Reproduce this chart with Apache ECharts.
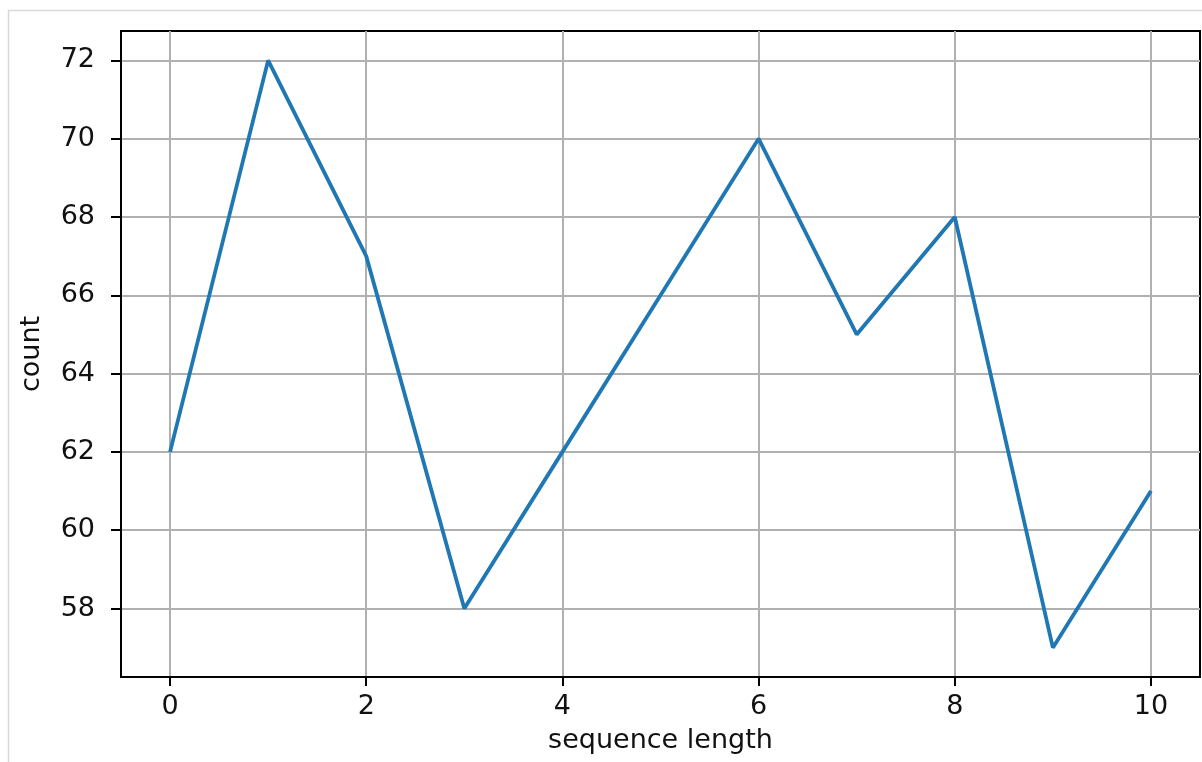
<!DOCTYPE html>
<html>
<head>
<meta charset="utf-8">
<script src="https://cdn.jsdelivr.net/npm/echarts@6/dist/echarts.min.js"></script>
<style>
html,body{margin:0;padding:0;background:#fff;}
#c{width:1202px;height:762px;}
</style>
</head>
<body>
<div id="c"></div>
<script>
const seqLength = [0, 1, 2, 3, 4, 5, 6, 7, 8, 9, 10];
const counts = [62, 72, 67, 58, 62, 66, 70, 65, 68, 57, 61];
const xTicks = [0, 2, 4, 6, 8, 10];
const yTicks = [58, 60, 62, 64, 66, 68, 70, 72];
const xName = 'sequence length';
const yName = 'count';

const font = 'DejaVu Sans';
const txt = '#111';
const fs = 27;
const chart = echarts.init(document.getElementById('c'), null, {renderer: 'canvas'});
chart.setOption({
  animation: false,
  backgroundColor: '#fff',
  graphic: [{
    type: 'rect', z: -10, silent: true,
    shape: {x: 8.5, y: 10.5, width: 1400, height: 1000},
    style: {fill: 'none', stroke: '#d9d9d9', lineWidth: 1.5}
  }],
  grid: {left: 121, top: 31, right: 2, bottom: 85, show: true, borderColor: '#000', borderWidth: 2, backgroundColor: 'transparent'},
  xAxis: {
    type: 'value', min: -0.5, max: 10.5, splitNumber: 5,
    name: xName, nameLocation: 'middle', nameGap: 50,
    nameTextStyle: {fontFamily: font, fontSize: fs, color: txt},
    axisLine: {show: true, onZero: false, lineStyle: {color: '#000', width: 2}},
    axisTick: {show: true, length: 9, customValues: xTicks, lineStyle: {color: '#000', width: 2}},
    axisLabel: {customValues: xTicks, margin: 16, fontFamily: font, fontSize: fs, color: txt},
    splitLine: {show: true, lineStyle: {color: '#b0b0b0', width: 2}}
  },
  yAxis: {
    type: 'value', min: 56.25, max: 72.75, splitNumber: 8,
    name: yName, nameLocation: 'middle', nameGap: 76, nameRotate: 90,
    nameTextStyle: {fontFamily: font, fontSize: fs, color: txt},
    axisLine: {show: true, onZero: false, lineStyle: {color: '#000', width: 2}},
    axisTick: {show: true, length: 10, customValues: yTicks, lineStyle: {color: '#000', width: 2}},
    axisLabel: {customValues: yTicks, margin: 26, fontFamily: font, fontSize: fs, color: txt},
    splitLine: {show: true, lineStyle: {color: '#b0b0b0', width: 2}}
  },
  series: [{
    type: 'line',
    data: seqLength.map((x, i) => [x, counts[i]]),
    symbol: 'none',
    lineStyle: {color: '#1f77b4', width: 3.8},
    itemStyle: {color: '#1f77b4'}
  }]
});
</script>
</body>
</html>
